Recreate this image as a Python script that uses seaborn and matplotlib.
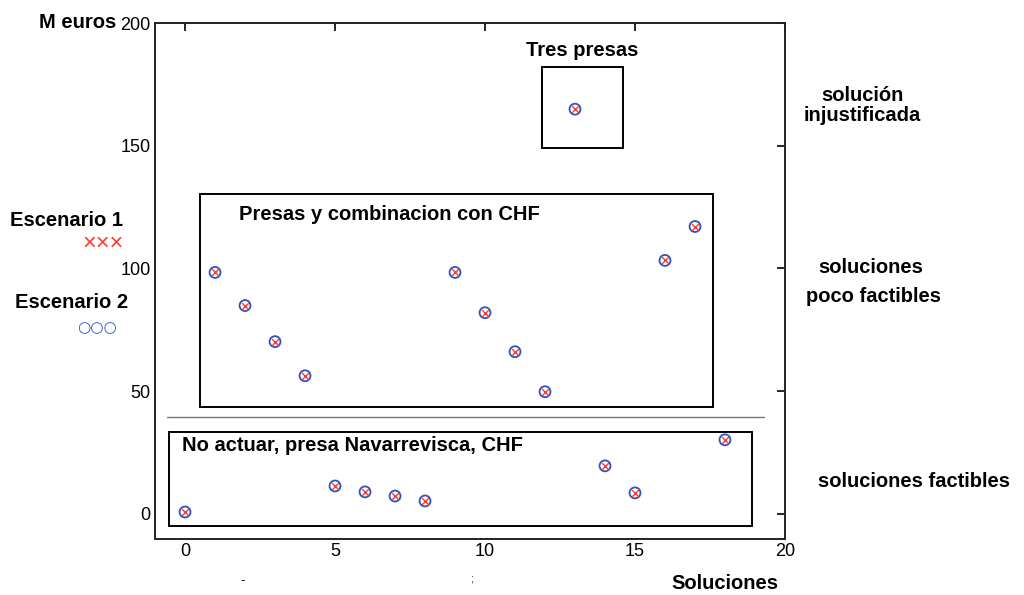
import pandas as pd
import matplotlib.pyplot as plt
import seaborn as sns
from matplotlib.patches import Rectangle

# Data
soluciones = list(range(19))
coste = [0.8, 98.4, 84.9, 70.2, 56.3, 11.4, 9.0, 7.3, 5.3, 98.4,
         82.0, 66.1, 49.8, 164.9, 19.6, 8.6, 103.3, 117.1, 30.2]
df = pd.DataFrame({"Solucion": soluciones, "Coste": coste})

# Group boxes (x0, x1, y0, y1)
boxes = [(11.9, 14.6, 149.0, 182.0),
         (0.5, 17.6, 43.7, 130.2),
         (-0.55, 18.9, -4.9, 33.5)]
sep_y = 39.6

sns.set_style("white")
plt.rcParams['font.family'] = ['Liberation Sans', 'DejaVu Sans']

fig = plt.figure(figsize=(10.24, 5.95), dpi=100)
ax = fig.add_axes([0.1514, 0.0941, 0.6152, 0.8672])

red = "#ff3b2f"
blue = "#2a55c0"
sns.scatterplot(data=df, x="Solucion", y="Coste", ax=ax, marker="o", s=62,
                facecolor="none", edgecolor=blue, linewidth=1.3, zorder=3)
sns.scatterplot(data=df, x="Solucion", y="Coste", ax=ax, marker="x", s=24,
                color=red, linewidth=1.0, zorder=4)

for x0, x1, y0, y1 in boxes:
    ax.add_patch(Rectangle((x0, y0), x1 - x0, y1 - y0, fill=False,
                           edgecolor="black", linewidth=1.4, zorder=2))
ax.plot([-0.6, 19.3], [sep_y, sep_y], color="#777777", linewidth=1.0)

ax.set_xlim(-1, 20)
ax.set_ylim(-10.2, 200)
ax.set_xticks([0, 5, 10, 15, 20])
ax.set_yticks([0, 50, 100, 150, 200])
ax.tick_params(direction="in", length=6, width=1.2, top=True, right=True,
               labeltop=False, labelright=False, labelsize=13, pad=3,
               colors="black")
for sp in ax.spines.values():
    sp.set_visible(True)
    sp.set_color("#222222")
    sp.set_linewidth(1.4)
ax.set_xlabel("")
ax.set_ylabel("")

bold = dict(fontweight="bold", fontsize=14.5, color="black")
ax.text(13.25, 185, "Tres presas", ha="center", va="bottom", **bold)
ax.text(1.8, 122, "Presas y combinacion con CHF", ha="left", va="center", **bold)
ax.text(-0.1, 28, "No actuar, presa Navarrevisca, CHF", ha="left", va="center", **bold)

fig.text(0.114, 0.962, "M euros", ha="right", va="center", **bold)
fig.text(0.065, 0.630, "Escenario 1", ha="center", va="center", **bold)
fig.text(0.070, 0.492, "Escenario 2", ha="center", va="center", **bold)
fig.text(0.101, 0.591, "×××", ha="center", va="center", color=red, fontsize=17)
fig.text(0.095, 0.449, "○○○", ha="center", va="center", color=blue, fontsize=11,
         family=['DejaVu Sans'])
fig.text(0.842, 0.840, "solución", ha="center", va="center", **bold)
fig.text(0.842, 0.806, "injustificada", ha="center", va="center", **bold)
fig.text(0.850, 0.550, "soluciones", ha="center", va="center", **bold)
fig.text(0.853, 0.501, "poco factibles", ha="center", va="center", **bold)
fig.text(0.893, 0.191, "soluciones factibles", ha="center", va="center", **bold)
fig.text(0.708, 0.020, "Soluciones", ha="center", va="center", **bold)
fig.text(0.237, 0.025, "-", ha="center", va="center", fontsize=10)
fig.text(0.460, 0.028, ";", ha="center", va="center", fontsize=8)

fig.savefig("out.png", dpi=100)
